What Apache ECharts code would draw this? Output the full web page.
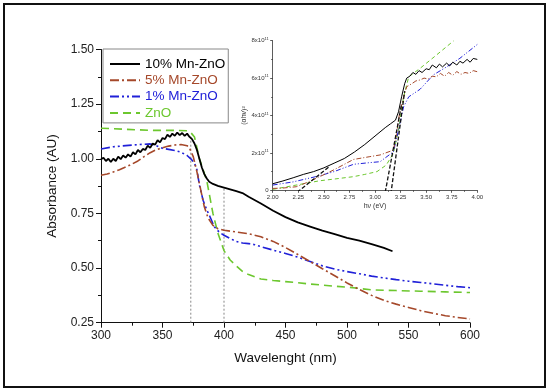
<!DOCTYPE html>
<html><head><meta charset="utf-8">
<script src="https://cdn.jsdelivr.net/npm/echarts@6/dist/echarts.min.js"></script>
<style>html,body{margin:0;padding:0;background:#fff}#c{width:550px;height:392px}</style>
</head><body><div id="c"></div>
<script>
// ---- main chart data (wavelength nm, absorbance AU) ----
const seriesNames = ['10% Mn-ZnO', '5% Mn-ZnO', '1% Mn-ZnO', 'ZnO'];
const mn10_nm = [300,302,304,306,308,310,312,314,316,318,320,322,324,326,328,330,332,334,336,338,340,342,344,346,348,350,352,354,356,358,360,362,364,366,368,370,372,374,376,378,380,382,384,386,388,391,395,400,405,410,415,420,430,440,450,460,470,480,490,500,510,520,530,537];
const mn10_val = [0.998,1.005,0.99,1.0,0.985,1.0,0.99,1.01,0.998,1.015,1.005,1.02,1.01,1.03,1.02,1.04,1.03,1.045,1.04,1.06,1.05,1.07,1.065,1.085,1.075,1.095,1.09,1.11,1.1,1.115,1.105,1.12,1.108,1.118,1.105,1.115,1.1,1.09,1.07,1.04,1.0,0.96,0.93,0.91,0.895,0.885,0.876,0.868,0.86,0.852,0.843,0.826,0.795,0.762,0.733,0.709,0.69,0.671,0.655,0.638,0.626,0.61,0.592,0.577];
const mn5_nm = [300,305,310,315,320,325,330,335,340,345,350,355,360,365,370,372,375,378,381,384,387,391,395,400,410,420,430,440,450,460,470,480,490,500,510,520,530,540,550,560,570,580,590,600];
const mn5_val = [0.925,0.93,0.94,0.95,0.962,0.975,0.99,1.01,1.028,1.042,1.05,1.058,1.063,1.065,1.06,1.048,1.01,0.94,0.86,0.78,0.73,0.695,0.68,0.673,0.665,0.657,0.643,0.622,0.594,0.562,0.53,0.497,0.465,0.432,0.402,0.375,0.352,0.335,0.32,0.305,0.293,0.282,0.274,0.267];
const mn1_nm = [300,310,320,330,340,345,350,355,360,365,370,373,376,378,380,383,386,389,392,396,400,405,410,415,420,425,430,440,450,460,470,480,490,500,510,520,530,540,550,560,570,580,590,600];
const mn1_val = [1.045,1.055,1.06,1.065,1.068,1.06,1.048,1.043,1.038,1.03,1.015,1.0,0.98,0.95,0.88,0.81,0.766,0.73,0.69,0.665,0.65,0.635,0.622,0.615,0.612,0.607,0.598,0.582,0.567,0.55,0.53,0.51,0.495,0.484,0.474,0.463,0.455,0.447,0.44,0.434,0.428,0.421,0.415,0.41];
const zno_nm = [300,320,340,360,370,373,376,380,383,386,388,391,395,400,405,410,415,420,430,440,450,460,470,480,490,500,520,540,560,580,600];
const zno_val = [1.14,1.135,1.13,1.13,1.128,1.12,1.10,1.0,0.95,0.90,0.84,0.75,0.66,0.58,0.537,0.51,0.485,0.47,0.45,0.443,0.438,0.433,0.427,0.422,0.417,0.413,0.40,0.397,0.394,0.391,0.388];
const markNm = [373, 400];
const markTop = [1.104, 0.868];
const xTicks = [300,350,400,450,500,550,600];
const yTicks = [0.25,0.50,0.75,1.00,1.25,1.50];

// ---- inset data (hv eV, (alpha h v)^2 in 1e11) ----
const in10_ev = [2.0,2.1,2.2,2.3,2.4,2.5,2.6,2.7,2.8,2.9,3.0,3.1,3.15,3.2,3.23,3.26,3.29,3.31,3.34,3.37,3.4,3.43,3.46,3.5,3.53,3.56,3.6,3.63,3.66,3.7,3.73,3.76,3.8,3.83,3.86,3.9,3.93,3.96,4.0];
const in10_val = [0.35,0.5,0.67,0.85,1.0,1.2,1.45,1.7,2.05,2.45,2.9,3.35,3.55,3.75,4.2,5.0,5.7,6.0,6.1,6.3,6.2,6.4,6.3,6.5,6.45,6.7,6.55,6.75,6.6,6.8,6.65,6.85,6.7,6.9,6.8,7.0,6.85,7.05,7.0];
const in5_ev = [2.0,2.1,2.23,2.35,2.46,2.6,2.79,2.95,3.05,3.18,3.21,3.24,3.28,3.31,3.36,3.4,3.44,3.48,3.52,3.56,3.6,3.64,3.68,3.72,3.76,3.8,3.84,3.88,3.92,3.96,4.0];
const in5_val = [0.1,0.12,0.19,0.45,0.73,1.1,1.65,1.8,1.89,2.15,3.0,4.12,5.0,5.54,5.7,5.85,5.9,6.0,5.95,6.1,6.07,6.25,6.1,6.3,6.15,6.35,6.2,6.3,6.25,6.4,6.34];
const in1_ev = [2.0,2.2,2.46,2.6,2.79,2.95,3.05,3.18,3.23,3.28,3.33,3.44,3.57,3.7,3.83,4.0];
const in1_val = [0.28,0.45,0.78,1.0,1.39,1.48,1.53,2.06,3.22,4.47,5.0,5.4,6.17,6.6,7.06,7.8];
const inZ_ev = [2.0,2.2,2.46,2.6,2.79,2.9,3.02,3.11,3.18,3.23,3.28,3.33,3.44,3.6,3.77];
const inZ_val = [0.05,0.25,0.51,0.6,0.73,0.85,1.0,1.35,1.98,3.22,5.0,6.07,6.52,7.23,8.0];
const tanA_ev = [3.10, 3.26];
const tanA_val = [-0.1, 4.6];
const tanB_ev = [3.155, 3.29];
const tanB_val = [-0.2, 5.3];
const tanC_ev = [2.24, 2.56];
const tanC_val = [-0.1, 1.3];

const zip = (a, b) => a.map((v, i) => [v, b[i]]);
const colors = ['#000000', '#a5482a', '#2020d8', '#6cc72e'];
const types = ['solid', [9,3,2,3], [9,3,2,3,2,3], [8,5]];

const chart = echarts.init(document.getElementById('c'), null, {renderer: 'canvas'});
const font = 'Liberation Sans, Arial, sans-serif';

const mainData = [zip(mn10_nm, mn10_val), zip(mn5_nm, mn5_val), zip(mn1_nm, mn1_val), zip(zno_nm, zno_val)];
const inData = [zip(in10_ev, in10_val), zip(in5_ev, in5_val), zip(in1_ev, in1_val), zip(inZ_ev, inZ_val)];

const series = [];
seriesNames.forEach((n, i) => {
  series.push({
    name: n, type: 'line', xAxisIndex: 0, yAxisIndex: 0, data: mainData[i],
    symbol: 'none', smooth: false, z: 5 - i,
    lineStyle: {color: colors[i], width: i === 0 ? 1.8 : 1.6, type: types[i]},
    itemStyle: {color: colors[i]}
  });
});
markNm.forEach((nm, i) => {
  series.push({
    type: 'line', xAxisIndex: 0, yAxisIndex: 0, data: [[nm, 0.25], [nm, markTop[i]]],
    symbol: 'none', silent: true, z: 1,
    lineStyle: {color: '#888', width: 1, type: [2, 2]}
  });
});
seriesNames.forEach((n, i) => {
  series.push({
    type: 'line', xAxisIndex: 1, yAxisIndex: 1, data: inData[i],
    symbol: 'none', silent: true, z: 5 - i,
    lineStyle: {color: colors[i], width: 1, type: i === 0 ? 'solid' : (i === 3 ? [4,3] : (i === 1 ? [5,2,1,2] : [5,2,1,2,1,2]))}
  });
});
[[tanA_ev, tanA_val], [tanB_ev, tanB_val], [tanC_ev, tanC_val]].forEach(t => {
  series.push({
    type: 'line', xAxisIndex: 1, yAxisIndex: 1, data: zip(t[0], t[1]),
    symbol: 'none', silent: true, z: 6,
    lineStyle: {color: '#111', width: 1.3, type: [4, 2]}
  });
});

chart.setOption({
  animation: false,
  backgroundColor: '#fff',
  graphic: [{
    type: 'rect', shape: {x: 4, y: 4, width: 541, height: 383},
    style: {fill: 'none', stroke: '#111', lineWidth: 2}, z: -1
  }],
  legend: {
    orient: 'vertical', left: 103, top: 49,
    itemWidth: 30, itemHeight: 10, itemGap: 2.3,
    padding: [8, 3, 3, 6],
    borderColor: '#888', borderWidth: 1, backgroundColor: '#fff',
    itemStyle: {opacity: 0},
    data: seriesNames.map((n, i) => ({name: n, textStyle: {color: colors[i], fontSize: 13.5, fontFamily: font}})),
    textStyle: {fontSize: 13.5, fontFamily: font}
  },
  grid: [
    {left: 101, right: 80, top: 49.5, bottom: 69.3},
    {left: 272.7, right: 72.7, top: 40.7, bottom: 201.7}
  ],
  xAxis: [{
    type: 'value', gridIndex: 0, min: 300, max: 600, interval: 50,
    name: 'Wavelenght (nm)', nameLocation: 'middle', nameGap: 29,
    nameTextStyle: {fontSize: 13.5, fontFamily: font, color: '#111'},
    axisLine: {show: true, lineStyle: {color: '#111', width: 1}},
    axisTick: {show: true, length: 5, lineStyle: {color: '#111'}},
    minorTick: {show: true, splitNumber: 2, length: 3, lineStyle: {color: '#111'}},
    splitLine: {show: false},
    axisLabel: {fontSize: 12, color: '#222', fontFamily: font, margin: 7}
  }, {
    type: 'value', gridIndex: 1, min: 2, max: 4, interval: 0.25,
    name: 'hν (eV)', nameLocation: 'middle', nameGap: 12,
    nameTextStyle: {fontSize: 7, fontFamily: font, color: '#333'},
    axisLine: {show: true, lineStyle: {color: '#333', width: 0.8}},
    axisTick: {show: true, length: 2.5, lineStyle: {color: '#333', width: 0.8}},
    minorTick: {show: true, splitNumber: 2, length: 1.5, lineStyle: {color: '#333', width: 0.8}},
    splitLine: {show: false},
    axisLabel: {fontSize: 6, color: '#333', fontFamily: font, margin: 4, formatter: v => v.toFixed(2)}
  }],
  yAxis: [{
    type: 'value', gridIndex: 0, min: 0.25, max: 1.5, interval: 0.25,
    name: 'Absorbance (AU)', nameLocation: 'middle', nameGap: 42,
    nameTextStyle: {fontSize: 13.5, fontFamily: font, color: '#111'},
    axisLine: {show: true, lineStyle: {color: '#111', width: 1}},
    axisTick: {show: true, length: 5, lineStyle: {color: '#111'}},
    minorTick: {show: true, splitNumber: 2, length: 3, lineStyle: {color: '#111'}},
    splitLine: {show: false},
    axisLabel: {fontSize: 12, color: '#222', fontFamily: font, margin: 7, formatter: v => v.toFixed(2)}
  }, {
    type: 'value', gridIndex: 1, min: 0, max: 8, interval: 2,
    name: '(αhν)²', nameLocation: 'middle', nameGap: 23,
    nameTextStyle: {fontSize: 7, fontFamily: font, color: '#333'},
    axisLine: {show: true, lineStyle: {color: '#333', width: 0.8}},
    axisTick: {show: true, length: 2.5, lineStyle: {color: '#333', width: 0.8}},
    minorTick: {show: true, splitNumber: 2, length: 1.5, lineStyle: {color: '#333', width: 0.8}},
    splitLine: {show: false},
    axisLabel: {
      fontSize: 6, color: '#333', fontFamily: font, margin: 4,
      formatter: v => v === 0 ? '0' : v + 'x10{s|11}',
      rich: {s: {fontSize: 4, verticalAlign: 'top', padding: [0, 0, 4, 0], color: '#333'}}
    }
  }],
  series: series
});
</script></body></html>
